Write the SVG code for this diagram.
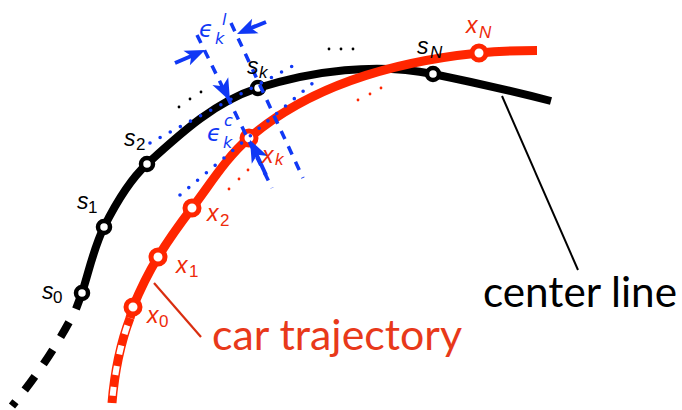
<svg xmlns="http://www.w3.org/2000/svg" width="682" height="410" viewBox="0 0 682 410">
  <defs>
    <style>
      .blk { fill: none; stroke: #000; stroke-width: 8; }
      .red { fill: none; stroke: #ff2600; stroke-width: 9; }
      .bc { fill: #fff; stroke: #000; stroke-width: 4.5; }
      .rc { fill: #fff; stroke: #ff2600; stroke-width: 5; }
      .bdash { fill: none; stroke: #1038f5; stroke-width: 3.5; stroke-dasharray: 9 8; }
      .bdot { fill: none; stroke: #1038f5; stroke-width: 3.6; stroke-linecap: round; stroke-dasharray: 0 11.5; }
      .shaft { fill: none; stroke: #1038f5; stroke-width: 4; }
      .head { fill: #1038f5; }
      .lbl { font-family: "Liberation Sans", "DejaVu Sans", sans-serif; font-style: italic; font-size: 23px; }
      .sub { font-size: 17px; }
      .num { font-style: normal; }
      .eps { font-family: "DejaVu Sans", sans-serif; font-style: italic; font-size: 23px; fill: #1038f5; }
      .es { font-family: "DejaVu Sans", sans-serif; font-style: italic; font-size: 16px; fill: #1038f5; }
      .big { font-family: Lato, "Open Sans", sans-serif; font-size: 42px; }
    </style>
    <path id="ah" d="M0,0 L-20,-8 L-15,0 L-20,8 Z"/>
  </defs>

  <g id="connectors">
    <line x1="502" y1="96" x2="578" y2="270" stroke="#000" stroke-width="2"/>
    <line x1="154" y1="283" x2="201" y2="337" stroke="#d92e10" stroke-width="2.2"/>
  </g>

  <g id="center-line">
    <path class="blk" d="M76,309 Q50,360 12,406" stroke-dasharray="17 15" stroke-dashoffset="17"/>
    <path class="blk" d="M76,309 L82,293 C89,271 94,247 104,227 C115,205 128.5,181 147,164 C180,134 215,101.5 258,88 C313,70.6 376,62.6 433,74 C472,82 512,91 551,101"/>
  </g>

  <g id="s-points">
    <circle class="bc" cx="82" cy="293" r="6"/>
    <circle class="bc" cx="104" cy="227" r="6"/>
    <circle class="bc" cx="147" cy="164" r="6"/>
    <circle class="bc" cx="258" cy="88" r="6"/>
    <circle class="bc" cx="433" cy="74" r="6"/>
  </g>

  <g id="car-trajectory">
    <path class="red" d="M130,318 Q116,355 112,403"/>
    <path d="M130,318 Q116,355 112,403" fill="none" stroke="#fff" stroke-width="6" stroke-dasharray="9 12" stroke-dashoffset="-8"/>
    <path class="red" d="M130,318 L133,307 C140,290 148.7,272.4 158,257 C168.3,239.9 179.9,223.9 192,208 C210.2,184.2 226.2,157.5 249,138 C311.3,84.7 398,61.2 479,53 C500,51 520,50.5 537,50.5"/>
  </g>

  <g id="x-points">
    <circle class="rc" cx="133" cy="307" r="7"/>
    <circle class="rc" cx="158" cy="257" r="7"/>
    <circle class="rc" cx="192" cy="208" r="7"/>
    <circle class="rc" cx="249" cy="138" r="7"/>
    <circle class="rc" cx="479" cy="53" r="7"/>
  </g>

  <g id="ellipsis-dots">
    <g fill="#000">
      <circle cx="179" cy="107" r="1.4"/>
      <circle cx="190" cy="99" r="1.4"/>
      <circle cx="201" cy="92" r="1.4"/>
      <circle cx="329" cy="49" r="1.4"/>
      <circle cx="341" cy="49" r="1.4"/>
      <circle cx="353" cy="49" r="1.4"/>
    </g>
    <g fill="#ff2600">
      <circle cx="229" cy="189" r="1.4"/>
      <circle cx="239" cy="179" r="1.4"/>
      <circle cx="248" cy="170" r="1.4"/>
      <circle cx="358" cy="100" r="1.4"/>
      <circle cx="370" cy="94" r="1.4"/>
      <circle cx="381" cy="88" r="1.4"/>
    </g>
  </g>

  <g id="error-construction">
    <line class="bdot" x1="150" y1="143" x2="300" y2="62"/>
    <line class="bdot" x1="180" y1="195" x2="320" y2="77"/>
    <line class="bdash" x1="197" y1="35" x2="272" y2="188"/>
    <line class="bdash" x1="231" y1="23" x2="303" y2="178"/>
    <line class="shaft" x1="175" y1="63" x2="196" y2="54"/>
    <use href="#ah" class="head" transform="translate(205,50) rotate(-23.6)"/>
    <line class="shaft" x1="266" y1="22" x2="246" y2="30"/>
    <use href="#ah" class="head" transform="translate(237,34) rotate(156.4)"/>
    <use href="#ah" class="head" transform="translate(230,101) rotate(63.9) scale(1.1)"/>
    <line class="shaft" x1="254" y1="149" x2="266" y2="175"/>
    <use href="#ah" class="head" transform="translate(250,140) rotate(-116.1) scale(1.1)"/>
  </g>

  <g id="labels">
    <text class="lbl" x="247" y="74">s<tspan class="sub" x="259" y="78">k</tspan></text>
    <text class="lbl" x="417" y="54">s<tspan class="sub" x="430" y="58">N</tspan></text>
    <text class="lbl" x="124" y="146">s<tspan class="sub num" x="136" y="150">2</tspan></text>
    <text class="lbl" x="77" y="209">s<tspan class="sub num" x="88" y="213">1</tspan></text>
    <text class="lbl" x="42" y="299">s<tspan class="sub num" x="53" y="303">0</tspan></text>
    <g fill="#ee2a0a">
      <text class="lbl" x="466" y="33">x<tspan class="sub" x="479" y="38">N</tspan></text>
      <text class="lbl" x="207" y="221">x<tspan class="sub num" x="220" y="226">2</tspan></text>
      <text class="lbl" x="176" y="273">x<tspan class="sub num" x="189" y="277">1</tspan></text>
      <text class="lbl" x="147" y="323">x<tspan class="sub num" x="159" y="327">0</tspan></text>
      <text class="lbl" x="262" y="163">x<tspan class="sub" x="275" y="165">k</tspan></text>
    </g>
    <text class="eps" x="199" y="37">ϵ</text>
    <text class="es" x="222" y="25">l</text>
    <text class="es" x="215" y="44">k</text>
    <text class="eps" x="207" y="141">ϵ</text>
    <text class="es" x="224" y="126">c</text>
    <text class="es" x="223" y="148">k</text>
    <text class="big" x="483" y="307" textLength="194" lengthAdjust="spacingAndGlyphs">center line</text>
    <text class="big" x="212" y="350" fill="#e8391a" textLength="250" lengthAdjust="spacingAndGlyphs">car trajectory</text>
  </g>
</svg>
